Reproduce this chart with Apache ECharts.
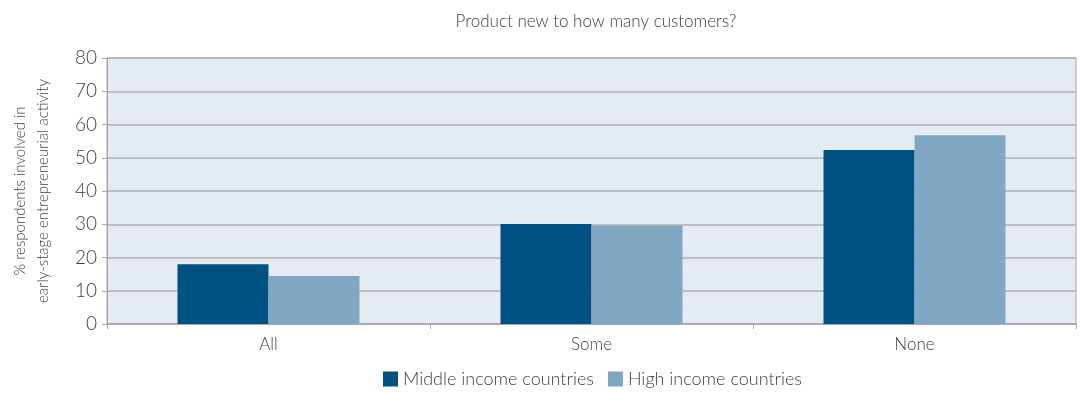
<!DOCTYPE html>
<html>
<head>
<meta charset="utf-8">
<script src="https://cdn.jsdelivr.net/npm/echarts@6/dist/echarts.min.js"></script>
<style>
  html, body { margin: 0; padding: 0; background: #fff; }
  #chart { width: 1081px; height: 394px; }
</style>
</head>
<body>
<div id="chart"></div>
<script>
// Share of early-stage entrepreneurs by how many customers find the product new
const categories = ['All', 'Some', 'None'];
const middleIncome = [18.0, 30.1, 52.3];
const highIncome = [14.4, 29.6, 56.8];
const seriesNames = ['Middle income countries', 'High income countries'];

const FONT = 'Lato, "Noto Sans", sans-serif';
const TEXT = '#424242';

const chart = echarts.init(document.getElementById('chart'));
chart.setOption({
  animation: false,
  title: {
    text: 'Product new to how many customers?',
    left: 591,
    textAlign: 'center',
    top: 8,
    textStyle: { fontFamily: FONT, fontSize: 17, fontWeight: 300, color: TEXT }
  },
  legend: {
    bottom: 1,
    left: 378,
    itemWidth: 15,
    itemHeight: 15,
    itemGap: 14,
    icon: 'rect',
    textStyle: { fontFamily: FONT, fontSize: 18, fontWeight: 300, color: TEXT },
    data: seriesNames
  },
  grid: {
    left: 107, right: 5, top: 58, bottom: 70,
    show: true,
    backgroundColor: '#e4ebf2',
    borderColor: '#a8a8a8',
    borderWidth: 1
  },
  xAxis: {
    type: 'category',
    data: categories,
    axisLine: { lineStyle: { color: '#a8a8a8', width: 1.5 } },
    axisTick: { show: true, alignWithLabel: false, length: 5, lineStyle: { color: '#a8a8a8' } },
    axisLabel: { fontFamily: FONT, fontSize: 17, fontWeight: 300, color: TEXT, margin: 12 }
  },
  yAxis: {
    type: 'value',
    min: 0, max: 80, interval: 10,
    name: '% respondents involved in\nearly-stage entrepreneurial activity',
    nameLocation: 'middle',
    nameGap: 52,
    nameTextStyle: { fontFamily: FONT, fontSize: 15, fontWeight: 300, color: TEXT, lineHeight: 23 },
    axisLine: { show: true, lineStyle: { color: '#a8a8a8', width: 1 } },
    axisTick: { show: true, length: 5, lineStyle: { color: '#a8a8a8' } },
    axisLabel: { fontFamily: FONT, fontSize: 19, fontWeight: 300, color: TEXT, margin: 10 },
    splitLine: { lineStyle: { color: '#b0b0b0', width: 1.5 } }
  },
  series: [
    {
      name: seriesNames[0],
      type: 'bar',
      data: middleIncome,
      barWidth: 91,
      barGap: '0%',
      itemStyle: { color: '#005282' }
    },
    {
      name: seriesNames[1],
      type: 'bar',
      data: highIncome,
      barWidth: 91,
      itemStyle: { color: '#7fa7c2' }
    }
  ]
});
</script>
</body>
</html>
